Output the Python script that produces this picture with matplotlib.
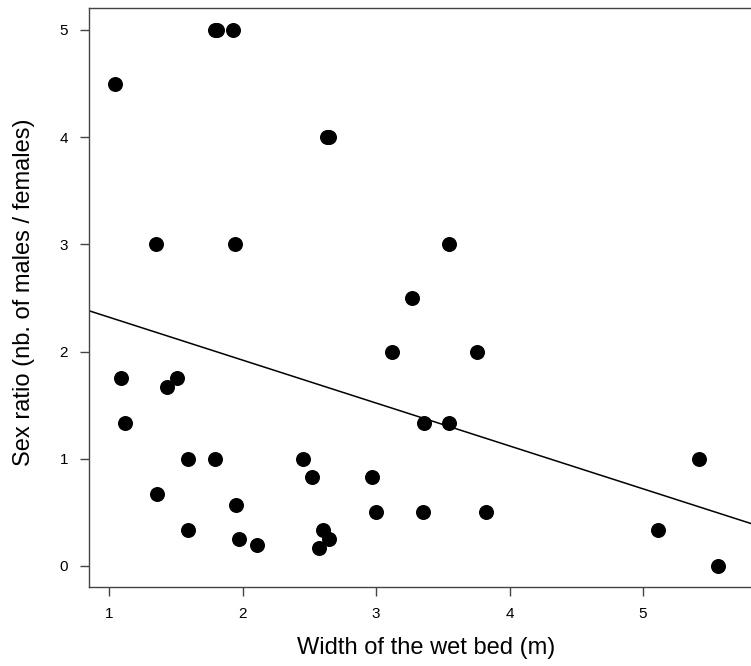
import matplotlib
matplotlib.use("Agg")
import matplotlib.pyplot as plt
import numpy as np

plt.rcParams["font.family"] = ["Liberation Sans", "DejaVu Sans"]

# Stream width (m) and sex ratio (males / females) per site
width_m = [1.04, 1.79, 1.81, 1.93, 2.63, 2.65,
           1.35, 1.94, 3.55, 3.27, 3.12, 3.76,
           3.36, 3.55, 1.09, 1.51, 1.43, 1.12,
           1.59, 1.79, 1.36, 1.95, 1.59, 1.97, 2.11,
           2.45, 2.52, 2.97, 3.00, 3.35, 3.82,
           2.60, 2.65, 2.57, 5.42, 5.11, 5.56]
sex_ratio = [4.5, 5.0, 5.0, 5.0, 4.0, 4.0,
             3.0, 3.0, 3.0, 2.5, 2.0, 2.0,
             1.333, 1.333, 1.75, 1.75, 1.667, 1.333,
             1.0, 1.0, 0.667, 0.571, 0.333, 0.25, 0.2,
             1.0, 0.833, 0.833, 0.5, 0.5, 0.5,
             0.333, 0.25, 0.167, 1.0, 0.333, 0.0]

# Least-squares trend line (intercept, slope)
fit_intercept = 2.72
fit_slope = -0.40

x_ticks = [1, 2, 3, 4, 5]
y_ticks = [0, 1, 2, 3, 4, 5]

W, H = 751, 666
fig = plt.figure(figsize=(W / 100, H / 100), dpi=100)
left_px, right_px, top_px, bottom_px = 89, 763, 8, 587
ax = fig.add_axes([left_px / W, 1 - bottom_px / H,
                   (right_px - left_px) / W, (bottom_px - top_px) / H])

ax.plot(width_m, sex_ratio, "o", color="black", markersize=10.8,
        markeredgewidth=0, clip_on=False, zorder=3)

x_lo, x_hi = 0.848, 5.90
xs = np.array([x_lo, x_hi])
ax.plot(xs, fit_intercept + fit_slope * xs, color="black", linewidth=1.1, zorder=2)

ax.set_xlim(x_lo, x_hi)
ax.set_ylim(-0.196, 5.205)
ax.set_xticks(x_ticks)
ax.set_yticks(y_ticks)
ax.set_xticklabels([str(v) for v in x_ticks])
ax.set_yticklabels([str(v) for v in y_ticks])

for side in ["left", "bottom", "top", "right"]:
    ax.spines[side].set_color("#444444")
    ax.spines[side].set_linewidth(1.0)

ax.tick_params(axis="both", direction="out", length=6.5, width=1.0,
               color="#444444", labelsize=11, labelcolor="black")
ax.tick_params(axis="x", pad=8)
ax.tick_params(axis="y", pad=8.5)

fig.text(426 / W, 1 - 648 / H, "Width of the wet bed (m)", ha="center",
         va="center", fontsize=17)
fig.text(24 / W, 1 - 292 / H, "Sex ratio (nb. of males / females)",
         ha="center", va="center", rotation=90, fontsize=17)

fig.savefig("out.png", dpi=100, facecolor="white")
